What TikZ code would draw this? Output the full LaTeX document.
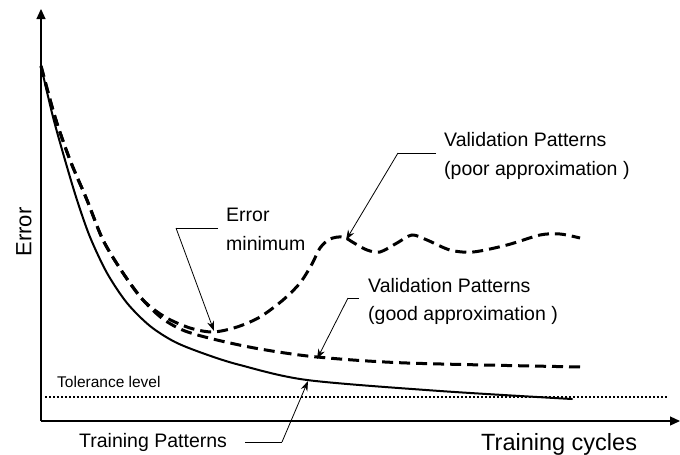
\documentclass[tikz,border=0pt]{standalone}
\usepackage{fontspec}
\setmainfont{Liberation Sans}
\usetikzlibrary{arrows.meta}
\begin{document}
\begin{tikzpicture}[x=1pt,y=-1pt,
  axis/.style={line width=1.2pt,-{Triangle[length=10pt,width=9pt]}},
  trainline/.style={line width=2pt,line cap=round},
  valline/.style={line width=3pt,dash pattern=on 11pt off 6pt},
  tolline/.style={line width=2pt,dash pattern=on 1.6pt off 2.4pt},
  leader/.style={line width=0.8pt},
  leaderarrow/.style={line width=0.8pt,-{Stealth[length=10pt,width=7pt]}},
  lbl/.style={font=\fontsize{19.5pt}{23pt}\selectfont,inner sep=0pt,anchor=base west},
  smalllbl/.style={font=\fontsize{15.5pt}{18pt}\selectfont,inner sep=0pt,anchor=base west}
]
\useasboundingbox (0,0) rectangle (680,455);

% axes
\coordinate (origin) at (41,421);
\coordinate (ytop) at (41,9);
\coordinate (xend) at (680,421);
\draw[axis] (origin) -- (ytop);
\draw[axis] (origin) -- (xend);
\node[rotate=90,inner sep=0pt,font=\fontsize{22pt}{26pt}\selectfont] (ylabel) at (24,232) {Error};
\node[inner sep=0pt,anchor=base west,font=\fontsize{23.5pt}{28pt}\selectfont] (xlabel) at (481,450) {Training cycles};

% tolerance level
\coordinate (tolA) at (45,397);
\coordinate (tolB) at (668,397);
\draw[tolline] (tolA) -- (tolB);
\node[smalllbl] (tol) at (57,387) {Tolerance level};

% training error curve
\draw[trainline] plot[smooth,tension=0.5] coordinates {
  (41,66) (53,117) (65,160) (77,200) (90,237) (107,273) (127,303)
  (150,326) (175,342) (205,354) (240,365) (307,380) (440,391) (572,399)};

% validation error, good approximation
\draw[valline] plot[smooth,tension=0.5] coordinates {
  (41,66) (55,117) (70,160) (87,200) (103,240) (123,273) (143,300)
  (163,319) (185,331) (217,340) (260,349) (317,357) (407,363) (582,367)};

% validation error, poor approximation
\draw[valline] plot[smooth,tension=0.5] coordinates {
  (41,66) (55,117) (70,160) (87,200) (103,240) (123,273) (143,300)
  (165,317) (190,328) (213,332) (237,327) (260,317) (283,300) (300,283)
  (312,264) (320,248) (330,239) (343,237) (354,243) (367,250) (380,252)
  (397,243) (412,235) (427,240) (450,250) (473,252) (507,245) (540,235)
  (560,234) (580,238)};

% labels
\node[lbl] (poor1) at (444,146) {Validation Patterns};
\node[lbl] (poor2) at (444,175) {(poor approximation )};
\node[lbl] (good1) at (368,292) {Validation Patterns};
\node[lbl] (good2) at (368,320) {(good approximation )};
\node[lbl] (min1) at (226,221) {Error};
\node[lbl] (min2) at (226,250) {minimum};
\node[lbl] (train) at (79,447) {Training Patterns};

% leader lines
\coordinate (minA) at (218,228);
\coordinate (minB) at (176,228);
\coordinate (minTip) at (214,331);
\draw[leader] (minA) -- (minB);
\draw[leaderarrow] (minB) -- (minTip);

\coordinate (poorA) at (436,153);
\coordinate (poorB) at (398,153);
\coordinate (poorTip) at (346,240);
\draw[leader] (poorA) -- (poorB);
\draw[leaderarrow] (poorB) -- (poorTip);

\coordinate (goodA) at (359,298);
\coordinate (goodB) at (348,298);
\coordinate (goodTip) at (317,359);
\draw[leader] (goodA) -- (goodB);
\draw[leaderarrow] (goodB) -- (goodTip);

\coordinate (trainA) at (245,442);
\coordinate (trainB) at (282,442);
\coordinate (trainTip) at (308,381);
\draw[leader] (trainA) -- (trainB);
\draw[leaderarrow] (trainB) -- (trainTip);
\end{tikzpicture}
\end{document}
